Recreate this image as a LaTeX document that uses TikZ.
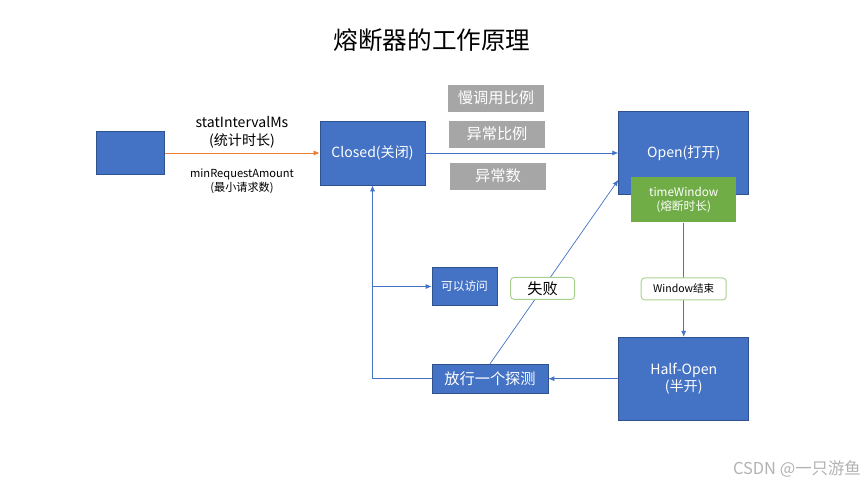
\documentclass[tikz,border=0pt]{standalone}
\usepackage{fontspec}
\setmainfont{Noto Sans CJK SC}
\usepackage{xcolor}
\usepackage{tikz}
\usetikzlibrary{arrows.meta,positioning}

\definecolor{boxblue}{HTML}{4472C4}
\definecolor{boxedge}{HTML}{2F528F}
\definecolor{boxgray}{HTML}{A6A6A6}
\definecolor{boxgreen}{HTML}{70AD47}
\definecolor{tagedge}{HTML}{A9D18E}
\definecolor{flowred}{HTML}{ED7D31}

\begin{document}
\begin{tikzpicture}[
  font=\fontsize{12}{14}\selectfont,
  blk/.style={draw=boxedge, line width=0.6pt, fill=boxblue, text=white, align=center, inner sep=1pt},
  cond/.style={fill=boxgray, text=white, minimum width=29mm, minimum height=8.1mm,
    font=\fontsize{13}{15}\selectfont},
  tag/.style={draw=tagedge, line width=0.8pt, fill=white, rounded corners=3pt, align=center},
  flow/.style={-{Latex[length=1.8mm,width=1.5mm]}, line width=0.6pt, draw=boxblue},
  link/.style={line width=0.6pt, draw=boxblue}
]
\useasboundingbox (0,0) rectangle (25.95,-14.52);

\node[font=\fontsize{21}{25}\selectfont] (title) at (12.96,-1.2) {熔断器的工作原理};

% main states
\node[blk, minimum width=31.5mm, minimum height=19.2mm] (closed) at (11.175,-4.59) {Closed(关闭)};
\node[blk, minimum width=20.4mm, minimum height=12.9mm, left=4.65cm of closed] (src) {};
\node[blk, minimum width=39mm, minimum height=24.9mm, right=5.79cm of closed] (open) {Open(打开)};
\node[blk, draw=none, fill=boxgreen, minimum width=31.5mm, minimum height=13.5mm,
  font=\fontsize{10}{12}\selectfont] (window) at ([yshift=-0.15cm]open.south) {timeWindow\\(熔断时长)};
\node[blk, minimum width=39mm, minimum height=24.9mm, below=4.26cm of open] (halfopen) {Half-Open\\(半开)};
\node[blk, minimum width=34.8mm, minimum height=8.7mm, left=2.1cm of halfopen,
  font=\fontsize{13}{15}\selectfont] (probe) {放行一个探测};
\node[blk, minimum width=19.5mm, minimum height=11.4mm, above=1.74cm of probe.north west,
  anchor=south west, font=\fontsize{10}{12}\selectfont] (pass) {可以访问};

% trip conditions
\node[cond] (slow) at (14.88,-2.94) {慢调用比例};
\node[cond] (ratio) at (14.91,-4.02) {异常比例};
\node[cond] (count) at (14.94,-5.28) {异常数};

% flows
\draw[-{Latex[length=1.8mm,width=1.5mm]}, line width=0.6pt, draw=flowred] (src) -- (closed);
\node[align=center, font=\fontsize{12}{15}\selectfont] (interval) at (7.26,-3.96) {statIntervalMs\\(统计时长)};
\node[align=center, font=\fontsize{9.5}{12}\selectfont] (amount) at (7.26,-5.43) {minRequestAmount\\(最小请求数)};

\draw[flow] (closed) -- (open);
\draw[flow] (window) -- node[tag, pos=0.58, font=\fontsize{9}{11}\selectfont, minimum width=25.5mm, minimum height=6.6mm] (ended) {Window结束} (halfopen);
\draw[flow] (halfopen) -- (probe);
\draw[flow] (probe.west) -| (closed.south);
\draw[flow] (closed.south |- pass.west) -- (pass.west);
\draw[flow] (probe.north) -- node[tag, pos=0.41, font=\fontsize{13}{15}\selectfont, minimum width=19.2mm, minimum height=6.6mm] (fail) {失败} ([yshift=0.45cm]open.south west);

\node[text=black!30, font=\fontsize{14}{16}\selectfont] (mark) at (23.91,-14.07) {CSDN @一只游鱼};
\end{tikzpicture}
\end{document}
